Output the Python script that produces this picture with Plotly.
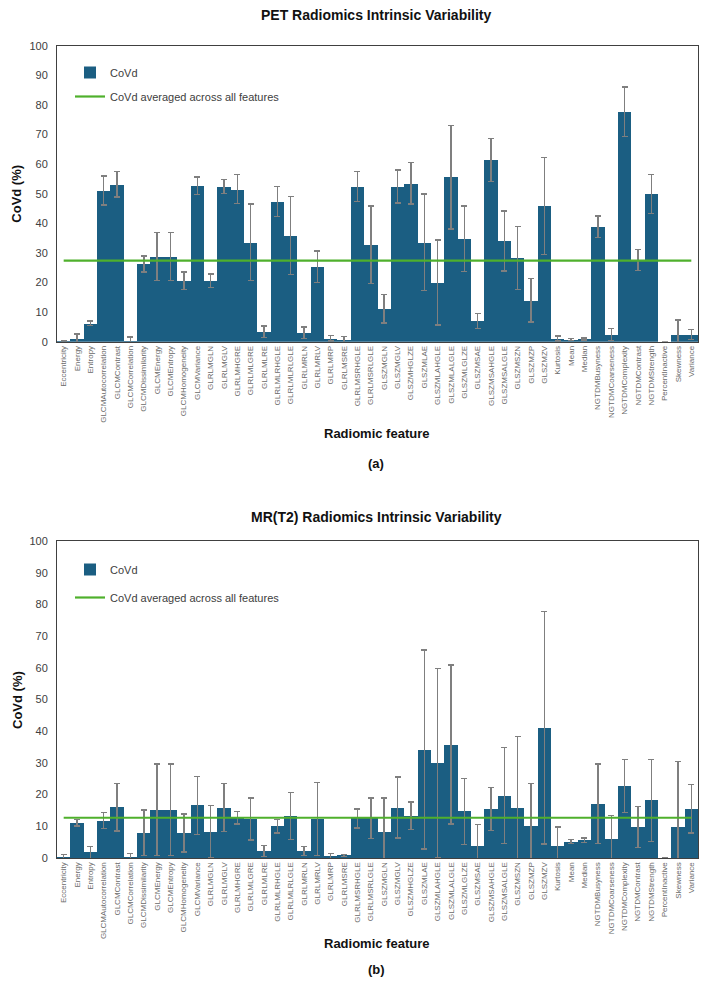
import plotly.graph_objects as go

features = ["Eccentricity", "Energy", "Entropy", "GLCMAutocorrelation", "GLCMContrast",
            "GLCMCorrelation", "GLCMDissimilarity", "GLCMEnergy", "GLCMEntropy",
            "GLCMHomogeneity", "GLCMVariance", "GLRLMGLN", "GLRLMGLV", "GLRLMHGRE",
            "GLRLMLGRE", "GLRLMLRE", "GLRLMLRHGLE", "GLRLMLRLGLE", "GLRLMRLN",
            "GLRLMRLV", "GLRLMRP", "GLRLMSRE", "GLRLMSRHGLE", "GLRLMSRLGLE",
            "GLSZMGLN", "GLSZMGLV", "GLSZMHGLZE", "GLSZMLAE", "GLSZMLAHGLE",
            "GLSZMLALGLE", "GLSZMLGLZE", "GLSZMSAE", "GLSZMSAHGLE", "GLSZMSALGLE",
            "GLSZMSZN", "GLSZMZP", "GLSZMZV", "Kurtosis", "Mean", "Median",
            "NGTDMBusyness", "NGTDMCoarseness", "NGTDMComplexity", "NGTDMContrast",
            "NGTDMStrength", "PercentInactive", "Skewness", "Variance"]

pet_covd = [0.2, 1.1, 6.2, 51.1, 53.2, 0.3, 26.2, 28.7, 28.7, 20.6, 52.7, 20.6, 52.4, 51.5,
            33.6, 3.4, 47.4, 35.9, 3.0, 25.3, 1.1, 0.8, 52.4, 32.7, 11.1, 52.4, 53.5, 33.6,
            20.0, 55.6, 34.8, 7.0, 61.4, 34.0, 28.3, 14.0, 45.8, 1.1, 0.8, 0.9, 38.9, 2.5,
            77.7, 27.6, 49.9, 0.0, 2.5, 2.5]
pet_err = [0.0, 1.5, 0.8, 4.9, 4.3, 1.3, 2.7, 8.1, 8.1, 3.0, 2.9, 2.3, 2.3, 4.9, 12.9, 1.9,
           5.0, 13.2, 2.0, 5.3, 0.9, 1.0, 5.1, 13.1, 4.8, 5.6, 7.0, 16.3, 14.3, 17.5, 11.0,
           2.5, 7.2, 10.1, 10.6, 7.3, 16.4, 0.8, 0.3, 0.3, 3.6, 2.0, 8.4, 3.5, 6.5, 0.0,
           4.8, 1.7]
pet_mean = 27.4

mr_covd = [0.3, 11.1, 1.8, 11.8, 16.0, 0.3, 7.9, 15.2, 15.2, 7.9, 16.6, 8.3, 15.9, 12.7,
           12.3, 2.2, 10.0, 13.3, 2.2, 12.3, 0.7, 0.8, 12.5, 12.5, 8.3, 15.9, 13.3, 34.2,
           30.0, 35.8, 14.7, 3.8, 15.5, 19.7, 15.9, 10.2, 41.1, 3.8, 5.2, 5.6, 17.1, 5.9,
           22.7, 9.8, 18.2, 0.0, 9.8, 15.5]
mr_err = [0.75, 1.0, 1.9, 2.5, 7.5, 1.1, 7.2, 14.4, 14.4, 6.0, 9.2, 8.2, 7.6, 2.0, 6.6,
          1.8, 2.1, 7.4, 1.5, 11.6, 0.8, 0.3, 3.0, 6.4, 10.6, 9.6, 4.4, 31.4, 29.8, 25.1,
          10.4, 6.7, 6.8, 15.2, 22.5, 13.3, 36.7, 6.0, 0.7, 0.7, 12.5, 7.6, 8.4, 6.5,
          12.9, 0.0, 20.6, 7.6]
mr_mean = 12.7

y_ticks = [0, 10, 20, 30, 40, 50, 60, 70, 80, 90, 100]

BAR = "#1b5e82"
GREEN = "#4fb02c"
ERR = "#7f7f7f"
FONT = "Liberation Sans"
W, H = 702, 989

fig = go.Figure()

panels = [
    (pet_covd, pet_err, pet_mean, "x", "y", "legend"),
    (mr_covd, mr_err, mr_mean, "x2", "y2", "legend2"),
]
for vals, errs, mean, xa, ya, lg in panels:
    fig.add_trace(go.Bar(
        x=features, y=vals, name="CoVd", marker=dict(color=BAR, line=dict(width=0)),
        error_y=dict(type="data", array=errs, visible=True, color=ERR, thickness=1.4, width=3),
        xaxis=xa, yaxis=ya, legend=lg, legendgroup="a" + lg,
    ))
    fig.add_trace(go.Scatter(
        x=features, y=[mean] * len(features), mode="lines",
        name="CoVd averaged across all features",
        line=dict(color=GREEN, width=2.2), xaxis=xa, yaxis=ya, legend=lg,
        legendgroup="b" + lg,
    ))

def px_y(p):
    return 1 - p / H

xdom = [57 / W, 698 / W]
axis_common_x = dict(
    type="category", showline=True, mirror=True, linecolor="#404040", linewidth=1,
    ticks="", tickangle=-90, tickfont=dict(family=FONT, size=8, color="#6a6a6a"),
    showgrid=False, domain=xdom, fixedrange=True, automargin=False,
)
axis_common_y = dict(
    range=[0, 100], tickvals=y_ticks, showline=True, mirror=True, linecolor="#404040",
    linewidth=1, ticks="", showgrid=False, zeroline=False, automargin=False,
    tickfont=dict(family=FONT, size=11, color="#404040"), ticklabelstandoff=6,
)

fig.update_layout(
    width=W, height=H, margin=dict(l=0, r=0, t=0, b=0, pad=0, autoexpand=False),
    paper_bgcolor="white", plot_bgcolor="white", bargap=0,
    font=dict(family=FONT, color="#222"),
    xaxis=dict(axis_common_x, anchor="y"),
    yaxis=dict(axis_common_y, anchor="x", domain=[px_y(341.7), px_y(45.7)]),
    xaxis2=dict(axis_common_x, anchor="y2"),
    yaxis2=dict(axis_common_y, anchor="x2", domain=[px_y(858), px_y(541)]),
    legend=dict(x=70 / W, y=px_y(58), xanchor="left", yanchor="top",
                bgcolor="rgba(0,0,0,0)", font=dict(family=FONT, size=11, color="#404040"),
                tracegroupgap=5),
    legend2=dict(x=70 / W, y=px_y(555), xanchor="left", yanchor="top",
                 bgcolor="rgba(0,0,0,0)", font=dict(family=FONT, size=11, color="#404040"),
                 tracegroupgap=9),
    showlegend=True,
)

ann = []
def add_text(text, xp, yp, size, bold=True, angle=0):
    ann.append(dict(text=("<b>%s</b>" % text) if bold else text, x=xp / W, y=px_y(yp),
                    xref="paper", yref="paper", showarrow=False, textangle=angle,
                    font=dict(family=FONT, size=size, color="#111"),
                    xanchor="center", yanchor="middle"))

add_text("PET Radiomics Intrinsic Variability", 376, 15, 14)
add_text("CoVd (%)", 17, 193.7, 13, angle=-90)
add_text("Radiomic feature", 376, 433, 13)
add_text("(a)", 376, 463, 13)
add_text("MR(T2) Radiomics Intrinsic Variability", 376, 517, 14)
add_text("CoVd (%)", 17, 700, 13, angle=-90)
add_text("Radiomic feature", 376, 943, 13)
add_text("(b)", 376, 969, 13)
fig.update_layout(annotations=ann)

fig.write_html("out.html", config={"displayModeBar": False},
               post_script="document.body.style.margin='0px';document.body.style.overflow='hidden';")
